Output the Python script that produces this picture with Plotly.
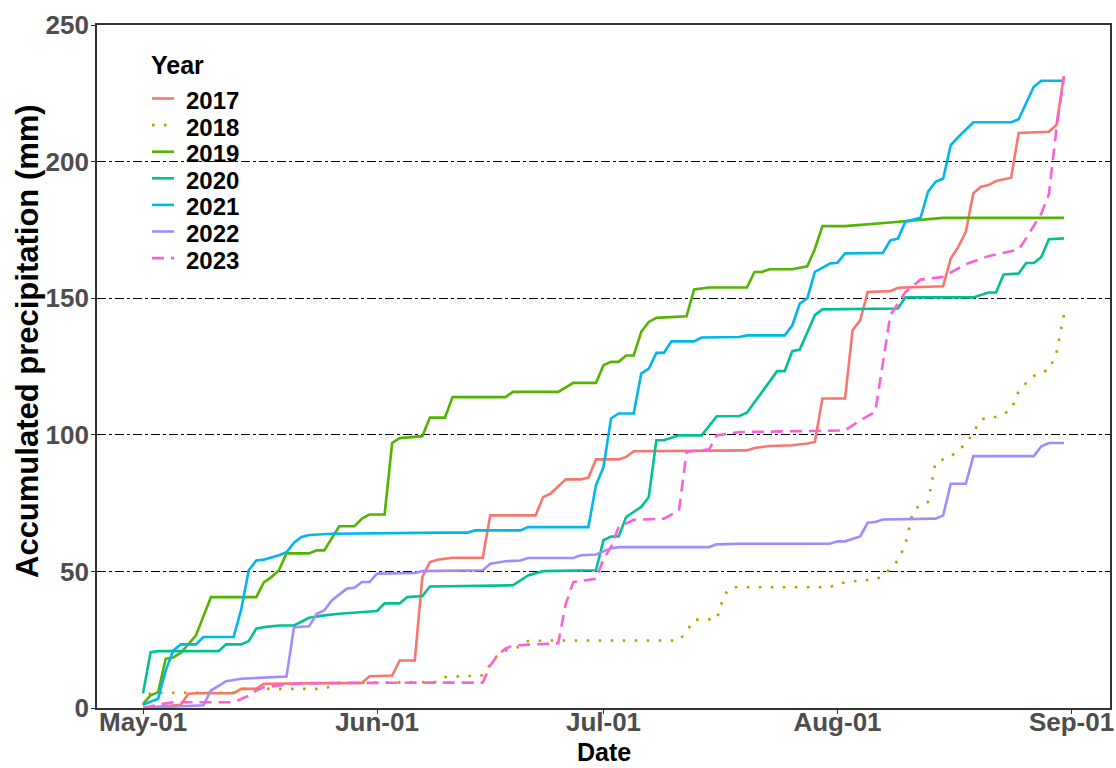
import pandas as pd
import plotly.graph_objects as go

# Accumulated precipitation per season; day = days after 1 May
years = ["2017", "2018", "2019", "2020", "2021", "2022", "2023"]

days_2017 = [0, 5, 6, 7, 12, 13, 15, 16, 29, 30, 33, 34, 36, 37, 38, 39, 41, 45, 46, 52, 53, 54, 56, 58, 59, 60,
             63, 64, 65, 79, 80, 81, 83, 86, 88, 89, 90, 93, 94, 95, 96, 99, 100, 106, 107, 108, 109, 110, 111,
             112, 113, 115, 116, 120, 121, 122]
prec_2017 = [0, 1.2, 5.2, 5.4, 5.4, 7.0, 7.0, 8.9, 9.2, 11.6, 11.9, 17.4, 17.4, 47.9, 53.4, 54.3, 55.0, 55.0, 70.5,
             70.5, 77.2, 78.5, 83.7, 83.7, 84.3, 91.0, 91.0, 91.9, 94.0, 94.3, 94.3, 95.2, 95.9, 96.2, 96.8, 97.4,
             113.3, 113.3, 138.3, 141.9, 152.3, 152.6, 153.8, 154.4, 164.5, 168.8, 174.3, 188.4, 190.8, 191.4,
             192.9, 194.1, 210.5, 210.9, 213.4, 231.3]

days_2018 = [0, 1, 12, 13, 24, 25, 26, 39, 40, 45, 46, 47, 48, 50, 51, 54, 71, 72, 73, 76, 77, 78, 91, 92, 95, 97,
             98, 100, 101, 102, 103, 104, 105, 107, 108, 109, 110, 111, 112, 113, 115, 116, 117, 118, 119, 120,
             121, 122]
prec_2018 = [1.0, 5.6, 5.6, 7.0, 7.0, 8.2, 9.2, 9.5, 11.3, 12.0, 16.0, 19.5, 21.0, 22.5, 24.5, 24.7, 24.7, 28.0,
             32.3, 32.5, 41.5, 44.2, 44.2, 45.5, 46.7, 47.0, 48.2, 54.0, 60.0, 72.0, 74.5, 75.4, 90.0, 91.9, 94.6,
             96.5, 101.0, 105.5, 106.5, 106.5, 109.0, 116.0, 119.0, 121.5, 123.0, 123.6, 130.0, 144.0]

days_2019 = [0, 1, 2, 3, 4, 5, 7, 9, 15, 16, 17, 18, 19, 22, 23, 24, 26, 28, 29, 30, 32, 33, 34, 37, 38, 40, 41,
             48, 49, 55, 57, 60, 61, 62, 63, 64, 65, 66, 67, 68, 72, 73, 75, 80, 81, 82, 83, 86, 88, 89, 90, 93,
             99, 106, 122]
prec_2019 = [1.5, 4.6, 5.8, 18.0, 18.5, 20.2, 26.5, 40.6, 40.6, 46.0, 47.9, 50.4, 56.6, 56.6, 57.7, 57.7, 66.5,
             66.5, 69.3, 70.8, 70.8, 97.0, 98.8, 99.5, 106.3, 106.3, 113.8, 113.8, 115.7, 115.7, 119.0, 119.0,
             125.5, 126.7, 126.7, 129.0, 129.0, 137.7, 141.3, 142.8, 143.4, 153.2, 153.9, 153.9, 159.6, 159.6,
             160.6, 160.6, 161.7, 168.0, 176.4, 176.4, 177.7, 179.4, 179.4]

days_2020 = [0, 1, 2, 10, 11, 13, 14, 15, 16, 18, 20, 22, 24, 26, 31, 32, 34, 35, 37, 38, 49, 51, 53, 60, 61, 62,
             63, 64, 66, 67, 68, 69, 71, 74, 76, 79, 80, 84, 85, 86, 87, 89, 90, 100, 101, 110, 112, 113, 114, 116,
             117, 118, 119, 120, 122]
prec_2020 = [5.4, 20.4, 20.8, 20.8, 23.3, 23.3, 24.5, 29.0, 29.6, 30.2, 30.2, 33.0, 33.9, 34.5, 35.5, 38.3, 38.3,
             40.6, 41.0, 44.5, 44.9, 48.5, 50.1, 50.4, 61.4, 62.8, 62.8, 69.9, 73.6, 77.2, 98.0, 98.0, 99.8, 99.8,
             106.8, 106.9, 108.1, 123.3, 123.3, 130.6, 131.2, 143.8, 145.9, 146.2, 150.3, 150.3, 152.1, 152.1,
             158.7, 159.0, 162.9, 162.9, 165.1, 171.6, 171.9]

days_2021 = [0, 2, 3, 4, 5, 7, 8, 12, 13, 14, 15, 16, 18, 19, 20, 21, 22, 25, 40, 43, 44, 50, 51, 59, 60, 61, 62,
             63, 65, 66, 67, 68, 69, 70, 73, 74, 79, 80, 85, 86, 87, 88, 89, 91, 92, 93, 98, 99, 100, 101, 103,
             104, 105, 106, 107, 108, 110, 115, 116, 118, 119, 122]
prec_2021 = [1.2, 3.4, 13.7, 21.0, 23.3, 23.3, 26.0, 26.0, 36.0, 50.4, 54.0, 54.3, 55.9, 57.0, 60.5, 62.6, 63.3,
             63.8, 64.2, 64.2, 65.0, 65.0, 66.2, 66.2, 81.5, 88.2, 106.0, 107.8, 107.8, 122.4, 124.2, 130.0, 130.0,
             134.2, 134.2, 135.6, 135.8, 136.4, 136.4, 140.0, 148.0, 150.0, 159.6, 162.7, 163.0, 166.4, 166.6,
             171.2, 171.8, 178.0, 179.4, 189.0, 192.6, 193.8, 206.0, 209.0, 214.4, 214.4, 215.5, 227.4, 229.6,
             229.6]

days_2022 = [0, 8, 9, 11, 13, 19, 20, 22, 23, 24, 25, 27, 28, 29, 30, 31, 36, 37, 45, 46, 48, 50, 51, 57, 58, 60,
             62, 63, 75, 76, 79, 91, 92, 93, 95, 96, 97, 98, 105, 106, 107, 109, 110, 118, 119, 120, 122]
prec_2022 = [0, 1.0, 6.4, 9.8, 10.7, 11.5, 29.6, 29.9, 34.5, 35.7, 39.4, 43.7, 44.0, 46.1, 46.1, 49.2, 49.4, 50.1,
             50.4, 52.8, 53.7, 54.0, 54.9, 54.9, 55.9, 56.2, 58.5, 58.9, 58.9, 59.9, 60.1, 60.1, 61.0, 61.0, 62.8,
             67.8, 68.1, 69.0, 69.3, 70.5, 82.1, 82.1, 92.2, 92.2, 95.8, 97.0, 97.0]

days_2023 = [0, 2, 4, 12, 14, 15, 16, 21, 39, 45, 46, 47, 48, 49, 55, 56, 57, 60, 61, 62, 63, 65, 69, 71, 72, 75,
             76, 79, 93, 95, 97, 98, 99, 101, 103, 106, 109, 112, 116, 117, 119, 120, 121, 122]
prec_2023 = [0, 1.2, 2.1, 2.1, 4.5, 6.4, 7.6, 9.1, 9.3, 9.3, 15.6, 19.5, 21.7, 22.9, 23.7, 38.0, 46.1, 47.3, 54.5,
             58.9, 66.2, 68.9, 69.3, 72.3, 93.7, 94.7, 99.8, 101.0, 101.6, 105.3, 108.4, 127.0, 143.8, 152.3,
             156.8, 157.8, 162.5, 165.4, 167.8, 172.0, 181.0, 188.0, 212.0, 231.0]

series_days = [days_2017, days_2018, days_2019, days_2020, days_2021, days_2022, days_2023]
series_prec = [prec_2017, prec_2018, prec_2019, prec_2020, prec_2021, prec_2022, prec_2023]

colors = ["#F8766D", "#C49A00", "#53B400", "#00C094", "#00B6EB", "#A58AFF", "#FB61D7"]
dashes = ["solid", "2.6px,9.4px", "solid", "solid", "solid", "solid", "12px,7px"]

tick_labels = ["May-01", "Jun-01", "Jul-01", "Aug-01", "Sep-01"]
tick_months = [5, 6, 7, 8, 9]

season_start = pd.Timestamp("2000-05-01")

fig = go.Figure()
for yr, d, p, c, ds in zip(years, series_days, series_prec, colors, dashes):
    fig.add_trace(go.Scatter(
        x=season_start + pd.to_timedelta(d, unit="D"),
        y=p,
        mode="lines",
        name=yr,
        line=dict(color=c, width=2.6, dash=ds),
        showlegend=False,
    ))

font_family = "Liberation Sans, Arial, sans-serif"
frame = "#333333"

last_day = max(max(d) for d in series_days)
pad = last_day * 0.05
x_range = [season_start - pd.Timedelta(days=pad), season_start + pd.Timedelta(days=last_day + pad)]

W, H = 1116, 768
M_L, M_R, M_T, M_B = 97, 6, 25, 60

fig.update_layout(
    width=W, height=H,
    margin=dict(l=M_L, r=M_R, t=M_T, b=M_B),
    plot_bgcolor="white", paper_bgcolor="white",
    font=dict(family=font_family),
    showlegend=False,
    xaxis=dict(
        type="date", range=x_range, automargin=False,
        tickvals=[pd.Timestamp(2000, m, 1) for m in tick_months],
        ticktext=tick_labels,
        tickfont=dict(size=26, color="#4D4D4D", weight="bold"),
        ticklabelstandoff=-14,
        ticks="outside", ticklen=4, tickcolor=frame, tickwidth=1.3,
        showgrid=False, zeroline=False,
        showline=True, mirror=True, linecolor=frame, linewidth=1.6,
    ),
    yaxis=dict(
        range=[0, 250], automargin=False,
        tickvals=[0, 50, 100, 150, 200, 250],
        tickfont=dict(size=26, color="#4D4D4D", weight="bold"),
        ticklabelstandoff=-3,
        ticks="outside", ticklen=4, tickcolor=frame, tickwidth=1.3,
        showgrid=True, gridcolor="black", griddash="dashdot", gridwidth=1.3,
        zeroline=False,
        showline=True, mirror=True, linecolor=frame, linewidth=1.6,
    ),
)

plot_w, plot_h = W - M_L - M_R, H - M_T - M_B
def px_x(v):
    return (v - M_L) / plot_w
def px_y(v):
    return (H - M_B - v) / plot_h

# Axis titles
fig.add_annotation(text="Date", xref="paper", yref="paper", x=px_x(604), y=px_y(767),
                   xanchor="center", yanchor="bottom", showarrow=False, borderpad=0,
                   font=dict(size=25, color="black", weight="bold", family=font_family))
fig.add_annotation(text="Accumulated precipitation (mm)", xref="paper", yref="paper",
                   x=px_x(27), y=px_y(341), textangle=-90,
                   xanchor="center", yanchor="middle", showarrow=False,
                   font=dict(size=31, color="black", weight="bold", family=font_family))

# Legend drawn inside the panel: title, short key lines and year labels
fig.add_annotation(text="Year", xref="paper", yref="paper", x=px_x(149), y=px_y(65),
                   xanchor="left", yanchor="middle", showarrow=False,
                   font=dict(size=25, color="black", weight="bold", family=font_family))
row_gap = 26.6
for i, (yr, c, ds) in enumerate(zip(years, colors, dashes)):
    yc = 100.5 + i * row_gap
    fig.add_shape(type="line", xref="paper", yref="paper",
                  x0=px_x(152), x1=px_x(174), y0=px_y(yc - 2), y1=px_y(yc - 2),
                  line=dict(color=c, width=2.6, dash=ds))
    fig.add_annotation(text=yr, xref="paper", yref="paper", x=px_x(184), y=px_y(yc),
                       xanchor="left", yanchor="middle", showarrow=False,
                       font=dict(size=24, color="black", weight="bold", family=font_family))

fig.write_html("out.html")
